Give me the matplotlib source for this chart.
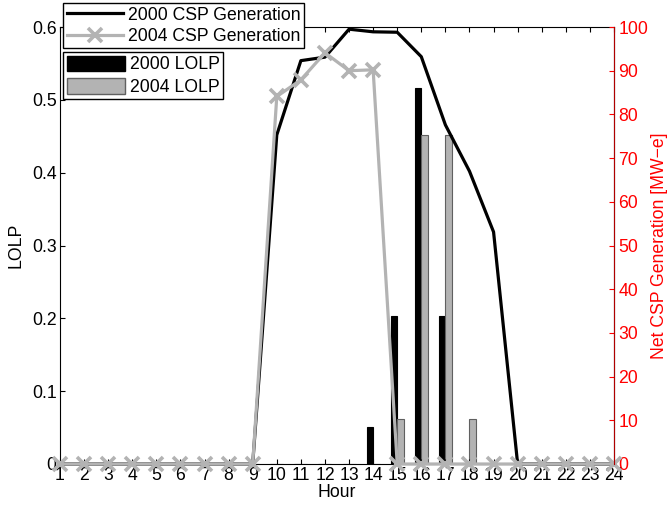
import matplotlib
matplotlib.use("Agg")
import matplotlib.pyplot as plt
import numpy as np
from matplotlib.lines import Line2D
from matplotlib.patches import Patch

plt.rcParams['font.family'] = ['Liberation Sans', 'DejaVu Sans']

hours = list(range(1, 25))
lolp_2000 = [0, 0, 0, 0, 0, 0, 0, 0, 0, 0, 0, 0, 0, 0.0512, 0.2036, 0.516, 0.2036, 0, 0, 0, 0, 0, 0, 0]
lolp_2004 = [0, 0, 0, 0, 0, 0, 0, 0, 0, 0, 0, 0, 0, 0, 0.0618, 0.4517, 0.4517, 0.0618, 0, 0, 0, 0, 0, 0]
csp_2000 = [0, 0, 0, 0, 0, 0, 0, 0, 0, 75.3, 92.3, 93.1, 99.5, 98.9, 98.8, 93.2, 77.6, 67.0, 53.1, 0, 0, 0, 0, 0]
csp_2004 = [0, 0, 0, 0, 0, 0, 0, 0, 0, 84.1, 87.9, 94.1, 90.0, 90.2, 0, 0, 0, 0, 0, 0, 0, 0, 0, 0]

FS = 12.7
fig = plt.figure(figsize=(6.69, 5.12), dpi=100)
ax = fig.add_axes([60/669, 48/512, 554/669, 437/512])
h = np.array(hours)
w = 0.27
ax.bar(h - 0.135, lolp_2000, width=w, color='black', edgecolor='black', linewidth=0.8)
ax.bar(h + 0.135, lolp_2004, width=w, color='#b3b3b3', edgecolor='#606060', linewidth=0.8)
ax.set_xlim(1, 24)
ax.set_ylim(0, 0.6)
ax.set_xticks(hours)
ax.set_yticks([0, 0.1, 0.2, 0.3, 0.4, 0.5, 0.6])
ax.set_yticklabels(['0', '0.1', '0.2', '0.3', '0.4', '0.5', '0.6'])
ax.tick_params(direction='in', top=True, right=True, length=3.6, labelsize=FS, pad=2.5)
ax.set_xlabel('Hour', fontsize=FS, labelpad=0)
ax.set_ylabel('LOLP', fontsize=FS, labelpad=5)

ax2 = ax.twinx()
ax2.plot(hours, csp_2000, color='black', linewidth=2.3, clip_on=False)
ax2.plot(hours, csp_2004, color='#b3b3b3', linewidth=2.3, marker='x', markersize=9.5,
         markeredgewidth=2.6, clip_on=False)
ax2.set_ylim(0, 100)
ax2.set_xlim(1, 24)
ax2.set_yticks(range(0, 101, 10))
ax2.tick_params(axis='y', direction='in', length=3.6, colors='#ff0000', labelsize=FS, pad=3)
ax2.spines['right'].set_color('#b00000')
ax2.set_ylabel('Net CSP Generation [MW\u2212e]', color='#ff0000', fontsize=FS, labelpad=2)
for s in ['left', 'top', 'bottom']:
    ax2.spines[s].set_visible(False)

h1 = [Line2D([], [], color='black', linewidth=2.3),
      Line2D([], [], color='#b3b3b3', linewidth=2.3, marker='x', markersize=9.5, markeredgewidth=2.6)]
leg1 = ax2.legend(h1, ['2000 CSP Generation', '2004 CSP Generation'], loc='upper left',
                  bbox_to_anchor=(63/669, 1 - 3/512), bbox_transform=fig.transFigure,
                  borderaxespad=0, fancybox=False, edgecolor='black', framealpha=1,
                  fontsize=FS, handlelength=3.2, handletextpad=0.3, labelspacing=0.25,
                  borderpad=0.2)
leg1.get_frame().set_linewidth(1.0)
ax2.add_artist(leg1)
h2 = [Patch(facecolor='black', edgecolor='black'), Patch(facecolor='#b3b3b3', edgecolor='#606060')]
leg2 = ax2.legend(h2, ['2000 LOLP', '2004 LOLP'], loc='upper left',
                  bbox_to_anchor=(63/669, 1 - 52/512), bbox_transform=fig.transFigure,
                  borderaxespad=0, fancybox=False, edgecolor='black', framealpha=1,
                  fontsize=FS, handlelength=3.3, handleheight=1.0, handletextpad=0.3,
                  labelspacing=0.25, borderpad=0.2)
leg2.get_frame().set_linewidth(1.0)

fig.savefig('out.png', dpi=100)
